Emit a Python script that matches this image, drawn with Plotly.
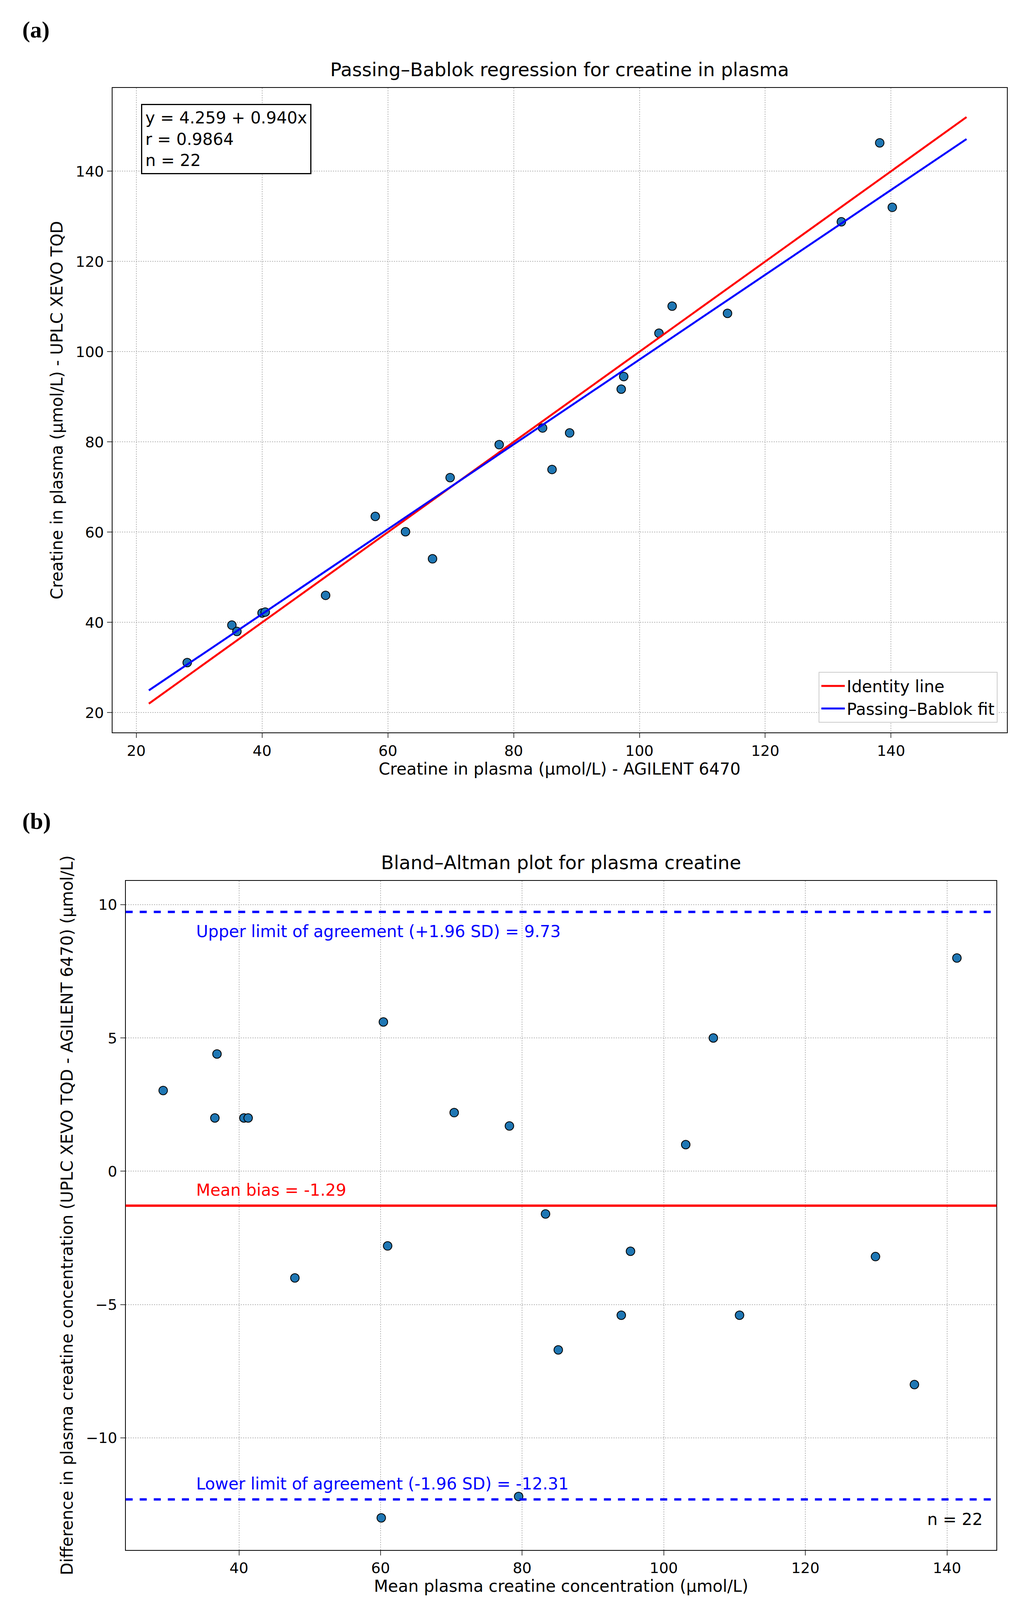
import plotly.graph_objects as go

# Passing-Bablok data
agilent = [28.1,35.2,36.0,40.0,40.5,50.1,58.0,62.8,67.1,69.9,77.7,84.6,86.1,88.9,97.1,97.5,103.1,105.2,114.0,132.1,138.2,140.2]
xevo = [31.1,39.4,38.0,42.1,42.3,46.0,63.5,60.1,54.1,72.1,79.4,83.1,73.9,82.0,91.7,94.5,104.1,110.1,108.5,128.8,146.3,132.0]
intercept, slope = 4.259, 0.940
line_x = [22, 152]

# Bland-Altman data
ba_mean = [29.3,36.6,36.9,40.7,41.3,47.9,60.4,61.0,60.1,70.4,78.2,79.5,83.3,85.1,94.0,95.3,103.1,107.0,110.7,129.9,135.4,141.4]
ba_diff = [3.03,2.0,4.4,2.0,2.0,-4.0,5.6,-2.8,-13.0,2.2,1.7,-12.2,-1.6,-6.7,-5.4,-3.0,1.0,5.0,-5.4,-3.2,-8.0,8.0]
bias, upper, lower = -1.29, 9.73, -12.31

F = "DejaVu Sans"
fig = go.Figure()
mk = dict(color="#1f77b4", size=22, line=dict(color="black", width=2))
fig.add_trace(go.Scatter(x=agilent, y=xevo, mode="markers", marker=mk, showlegend=False, xaxis="x", yaxis="y"))
fig.add_trace(go.Scatter(x=line_x, y=line_x, mode="lines", line=dict(color="red", width=5), name="Identity line", xaxis="x", yaxis="y"))
fig.add_trace(go.Scatter(x=line_x, y=[intercept + slope*v for v in line_x], mode="lines", line=dict(color="blue", width=5), name="Passing–Bablok fit", xaxis="x", yaxis="y"))
fig.add_trace(go.Scatter(x=ba_mean, y=ba_diff, mode="markers", marker=mk, showlegend=False, xaxis="x2", yaxis="y2"))

ax = dict(showline=True, mirror=True, linecolor="black", linewidth=2, ticks="outside", ticklen=12, tickwidth=2,
          tickfont=dict(size=38, family=F, color="black"), showgrid=True, gridcolor="#b8b8b8", griddash="dot", gridwidth=2, zeroline=False)
tf = dict(size=42, family=F, color="black")
fig.update_layout(
    width=2613, height=4168, paper_bgcolor="white", plot_bgcolor="white", font=dict(family=F),
    margin=dict(l=0, r=0, t=0, b=0),
    xaxis=dict(ax, domain=[0.107, 0.983], range=[16.2, 158.4], dtick=20, anchor="y",
               title=dict(text="Creatine in plasma (µmol/L) - AGILENT 6470", font=tf, standoff=10)),
    yaxis=dict(ax, domain=[0.552, 0.948], range=[15.6, 158.5], dtick=20, anchor="x",
               title=dict(text="Creatine in plasma (µmol/L) - UPLC XEVO TQD", font=tf, standoff=20)),
    xaxis2=dict(ax, domain=[0.120, 0.973], range=[24.0, 147.0], dtick=20, anchor="y2",
                title=dict(text="Mean plasma creatine concentration (µmol/L)", font=tf, standoff=10)),
    yaxis2=dict(ax, domain=[0.050, 0.461], range=[-14.2, 10.9], dtick=5, anchor="x2",
                title=dict(text="Difference in plasma creatine concentration (UPLC XEVO TQD - AGILENT 6470) (µmol/L)", font=tf, standoff=20)),
    legend=dict(x=0.974, y=0.558, xref="paper", yref="paper", xanchor="right", yanchor="bottom",
                font=dict(size=42, family=F, color="black"), bordercolor="#cccccc", borderwidth=2, bgcolor="white",
                itemwidth=60, tracegroupgap=0),
    shapes=[
        dict(type="line", xref="x2 domain", yref="y2", x0=0, x1=1, y0=bias, y1=bias, line=dict(color="red", width=6)),
        dict(type="line", xref="x2 domain", yref="y2", x0=0, x1=1, y0=upper, y1=upper, line=dict(color="blue", width=6, dash="dash")),
        dict(type="line", xref="x2 domain", yref="y2", x0=0, x1=1, y0=lower, y1=lower, line=dict(color="blue", width=6, dash="dash")),
    ],
    annotations=[
        dict(text="<b>(a)</b>", x=0.018, y=0.992, xref="paper", yref="paper", showarrow=False, xanchor="left", yanchor="top", font=dict(size=60, family="Liberation Serif", color="black")),
        dict(text="<b>(b)</b>", x=0.018, y=0.506, xref="paper", yref="paper", showarrow=False, xanchor="left", yanchor="top", font=dict(size=60, family="Liberation Serif", color="black")),
        dict(text="Passing–Bablok regression for creatine in plasma", x=0.545, y=0.952, xref="paper", yref="paper", showarrow=False, yanchor="bottom", font=dict(size=48, family=F, color="black")),
        dict(text="Bland–Altman plot for plasma creatine", x=0.5465, y=0.465, xref="paper", yref="paper", showarrow=False, yanchor="bottom", font=dict(size=48, family=F, color="black")),
        dict(text="y = 4.259 + 0.940x<br>r = 0.9864<br>n = 22", x=0.032, y=0.975, xref="x domain", yref="y domain", showarrow=False, xanchor="left", yanchor="top", align="left",
             font=dict(size=42, family=F, color="black"), bordercolor="black", borderwidth=3, bgcolor="white", borderpad=8),
        dict(text="Upper limit of agreement (+1.96 SD) = 9.73", x=0.08, y=upper - 0.35, xref="x2 domain", yref="y2", showarrow=False, xanchor="left", yanchor="top", font=dict(size=42, family=F, color="blue")),
        dict(text="Mean bias = -1.29", x=0.08, y=bias + 0.2, xref="x2 domain", yref="y2", showarrow=False, xanchor="left", yanchor="bottom", font=dict(size=42, family=F, color="red")),
        dict(text="Lower limit of agreement (-1.96 SD) = -12.31", x=0.08, y=lower + 0.2, xref="x2 domain", yref="y2", showarrow=False, xanchor="left", yanchor="bottom", font=dict(size=42, family=F, color="blue")),
        dict(text="n = 22", x=0.985, y=0.03, xref="x2 domain", yref="y2 domain", showarrow=False, xanchor="right", yanchor="bottom", font=dict(size=42, family=F, color="black")),
    ],
)
fig.write_html("out.html")
